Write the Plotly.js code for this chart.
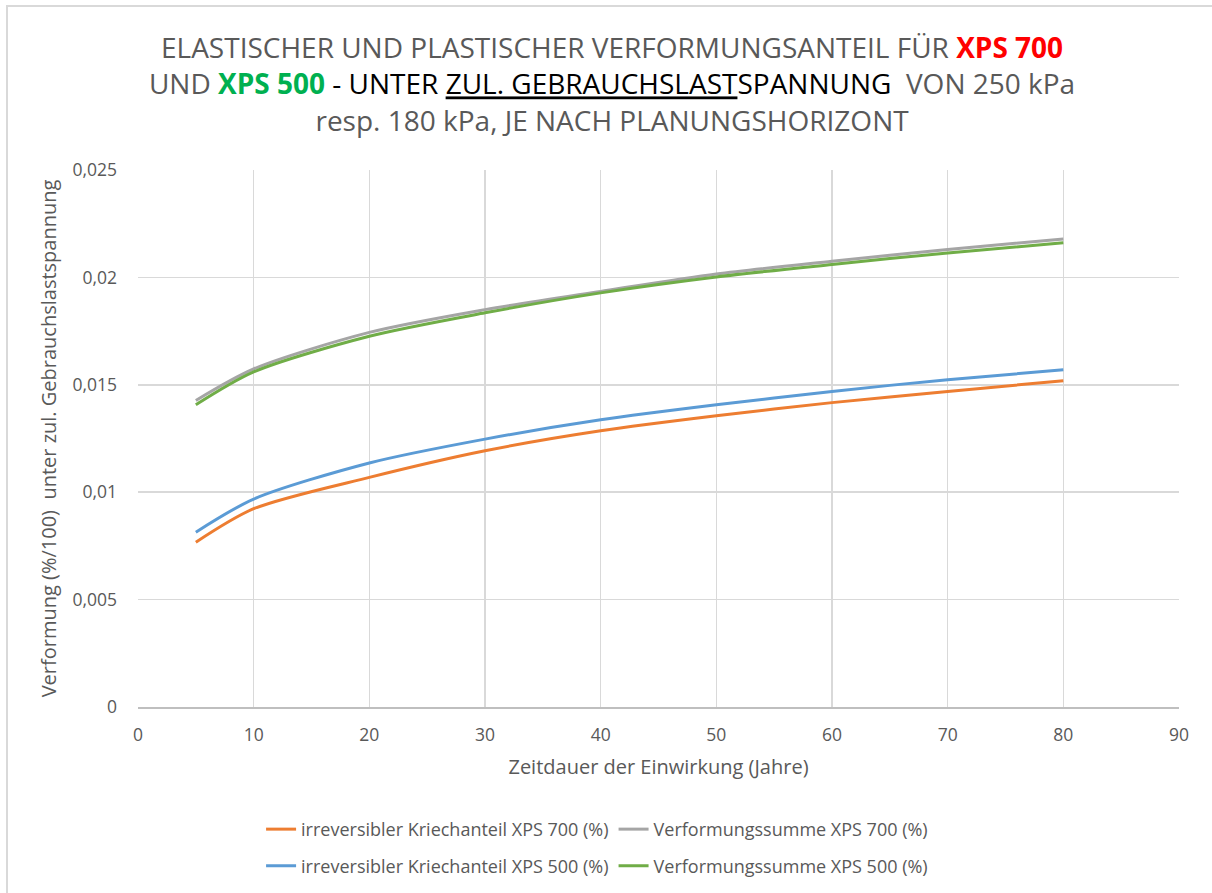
<!DOCTYPE html>
<html>
<head>
<meta charset="utf-8">
<script src="https://cdn.plot.ly/plotly-3.0.1.min.js"></script>
<style>
html,body{margin:0;padding:0;background:#fff;overflow:hidden;}
#chart{position:absolute;left:0;top:0;width:1212px;height:893px;}
#frame{position:absolute;left:6px;top:5px;width:1220px;height:900px;border-left:2px solid #d9d9d9;border-top:2px solid #d9d9d9;pointer-events:none;z-index:10;}
</style>
</head>
<body>
<div id="chart"></div>
<div id="frame"></div>
<script>
const years = [5, 10, 20, 30, 40, 50, 60, 70, 80];
const kriech700 = [0.00767, 0.00923, 0.01069, 0.01193, 0.01286, 0.01356, 0.01417, 0.01469, 0.01519];
const summe700  = [0.01427, 0.01574, 0.01744, 0.01850, 0.01935, 0.02016, 0.02075, 0.02130, 0.02179];
const kriech500 = [0.00814, 0.00968, 0.01136, 0.01247, 0.01337, 0.01407, 0.01469, 0.01524, 0.01570];
const summe500  = [0.01407, 0.01560, 0.01726, 0.01835, 0.01928, 0.02002, 0.02060, 0.02114, 0.02161];

const seriesNames = [
  "irreversibler Kriechanteil XPS 700 (%)",
  "Verformungssumme XPS 700 (%)",
  "irreversibler Kriechanteil XPS 500 (%)",
  "Verformungssumme XPS 500 (%)"
];
const xTickVals = [0, 10, 20, 30, 40, 50, 60, 70, 80, 90];
const xTickText = ["0", "10", "20", "30", "40", "50", "60", "70", "80", "90"];
const yTickVals = [0, 0.005, 0.01, 0.015, 0.02, 0.025];
const yTickText = ["0", "0,005", "0,01", "0,015", "0,02", "0,025"];

const FONT = "'Open Sans', 'Noto Sans', sans-serif";
const GRAY = "#595959";

function tr(y, name, color, legend) {
  return {
    x: years, y: y, name: name, type: "scatter", mode: "lines",
    line: {color: color, width: 3, shape: "spline", smoothing: 0.8},
    legend: legend, hoverinfo: "skip"
  };
}

const data = [
  tr(kriech700, seriesNames[0], "#ED7D31", "legend"),
  tr(summe700, seriesNames[1], "#A5A5A5", "legend"),
  tr(kriech500, seriesNames[2], "#5B9BD5", "legend2"),
  tr(summe500, seriesNames[3], "#70AD47", "legend2")
];

const titleText =
  "ELASTISCHER UND PLASTISCHER VERFORMUNGSANTEIL FÜR <b><span style='color:#FF0000'>XPS 700</span></b><br>" +
  "UND <b><span style='color:#00B050'>XPS 500</span></b> <span style='color:#000000'>- UNTER <u>ZUL. GEBRAUCHSLAST</u>SPANNUNG</span>  VON 250 kPa<br>" +
  "resp. 180 kPa, JE NACH PLANUNGSHORIZONT";

const legendCommon = {
  orientation: "h", xref: "paper", x: 0.441, xanchor: "center",
  yref: "paper", yanchor: "middle", font: {family: FONT, size: 18, color: GRAY},
  bgcolor: "rgba(0,0,0,0)", itemwidth: 30, tracegroupgap: 0
};

const layout = {
  width: 1212, height: 893,
  paper_bgcolor: "#fff", plot_bgcolor: "#fff",
  font: {family: FONT, color: GRAY},
  margin: {l: 138, r: 33, t: 170, b: 186, autoexpand: false},
  title: {
    text: titleText, font: {family: FONT, size: 28, color: GRAY},
    x: 0.505, xanchor: "center", xref: "container",
    y: 0.935, yanchor: "top", yref: "container"
  },
  xaxis: {
    range: [0, 90], tickvals: xTickVals, ticktext: xTickText,
    showgrid: true, gridcolor: "#d9d9d9", gridwidth: 1.5,
    zeroline: false, showline: true, linecolor: "#bfbfbf", linewidth: 1.5,
    ticks: "", ticklabelstandoff: 11, tickfont: {family: FONT, size: 17.5, color: GRAY},
    title: {text: "Zeitdauer der Einwirkung (Jahre)", font: {family: FONT, size: 20, color: GRAY}, standoff: 15},
    fixedrange: true
  },
  yaxis: {
    range: [0, 0.025], tickvals: yTickVals, ticktext: yTickText,
    showgrid: true, gridcolor: "#d9d9d9", gridwidth: 1.5,
    zeroline: false, showline: false,
    ticks: "", ticklabelstandoff: 20, tickfont: {family: FONT, size: 17.5, color: GRAY},
    title: {text: "Verformung (%/100)  unter zul. Gebrauchslastspannung", font: {family: FONT, size: 20, color: GRAY}, standoff: 10},
    fixedrange: true
  },
  legend: Object.assign({}, legendCommon, {y: -0.228}),
  legend2: Object.assign({}, legendCommon, {y: -0.296}),
  showlegend: true
};

Plotly.newPlot("chart", data, layout, {displayModeBar: false, staticPlot: true});
</script>
</body>
</html>
